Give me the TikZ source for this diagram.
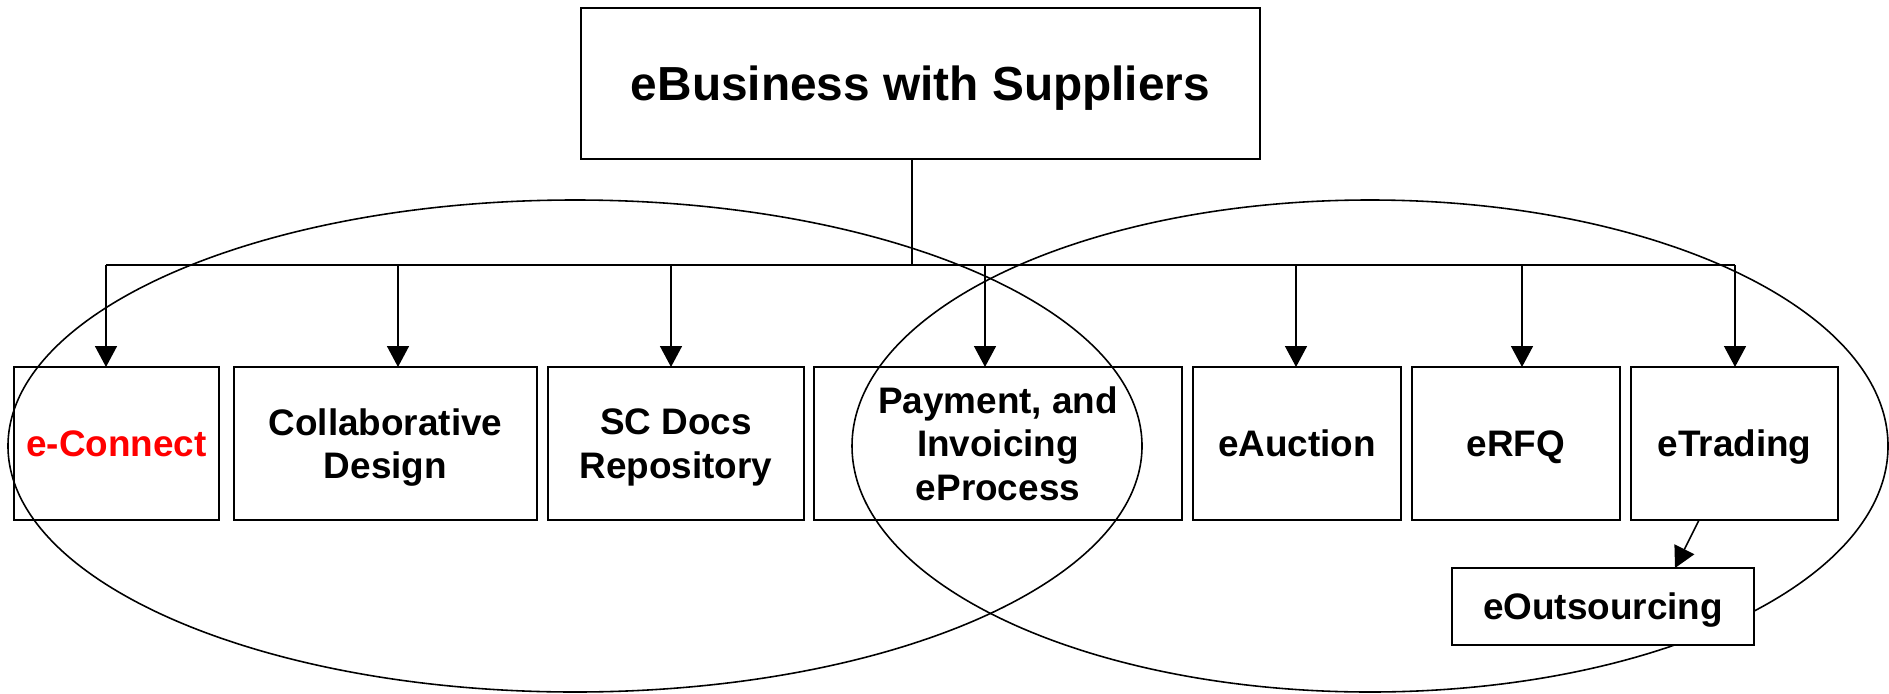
\documentclass[tikz,border=0pt]{standalone}
\usepackage{xcolor}
\usepackage{fontspec}
\setmainfont{Liberation Sans}
\usetikzlibrary{arrows.meta, positioning}

\begin{document}
\begin{tikzpicture}[
    >={Triangle[length=2.1mm, width=2.2mm]},
    node distance=0.11cm,
    box/.style={rectangle, draw, line width=0.6pt, outer sep=0pt, minimum height=1.53cm, align=center,
        inner sep=1pt, text depth=0pt, font=\fontsize{10.5}{12.3}\selectfont\bfseries},
    topbox/.style={rectangle, draw, line width=0.6pt, outer sep=0pt, minimum width=6.79cm, minimum height=1.51cm,
        text depth=0pt, font=\fontsize{13.6}{16}\selectfont\bfseries},
    link/.style={line width=0.45pt},
    ring/.style={line width=0.45pt}
]
\useasboundingbox (0,0) rectangle (18.89,-6.93);

% Two groups
\draw[ring] (5.75,-4.46) ellipse [x radius=5.67cm, y radius=2.46cm];
\draw[ring] (13.70,-4.46) ellipse [x radius=5.18cm, y radius=2.46cm];

% Top layer
\node[topbox] (top) at (9.205,-0.835) {eBusiness with Suppliers};

% Second layer
\node[box, minimum width=2.05cm, text=red] (econnect) at (1.165,-4.435) {e-Connect};
\node[box, minimum width=3.03cm, right=0.15cm of econnect] (collab) {Collaborative\\Design};
\node[box, minimum width=2.56cm, right=of collab] (scdocs) {SC Docs\\Repository};
\node[box, minimum width=3.68cm, right=0.10cm of scdocs] (payment) {Payment, and\\Invoicing\\eProcess};
\node[box, minimum width=2.08cm, right=of payment] (eauction) {eAuction};
\node[box, minimum width=2.08cm, right=of eauction] (erfq) {eRFQ};
\node[box, minimum width=2.07cm, right=of erfq] (etrading) {eTrading};

\node[box, minimum width=3.02cm, minimum height=0.77cm, fill=white] (eout) at (16.03,-6.065) {eOutsourcing};

% Arrows
\coordinate (stem) at (9.12,-2.65);
\draw[link] (top.south -| stem) -- (stem);
\draw[link] (1.06,-2.65) -- (17.35,-2.65);
\foreach \x/\n in {1.06/econnect, 3.98/collab, 6.71/scdocs, 9.85/payment, 12.96/eauction, 15.22/erfq, 17.35/etrading}{
    \coordinate (j\n) at (\x,-2.65);
    \draw[link, ->] (j\n) -- (j\n |- \n.north);
}
\draw[link, ->] ([xshift=-0.355cm]etrading.south) -- ([xshift=0.72cm]eout.north);

\end{tikzpicture}
\end{document}
